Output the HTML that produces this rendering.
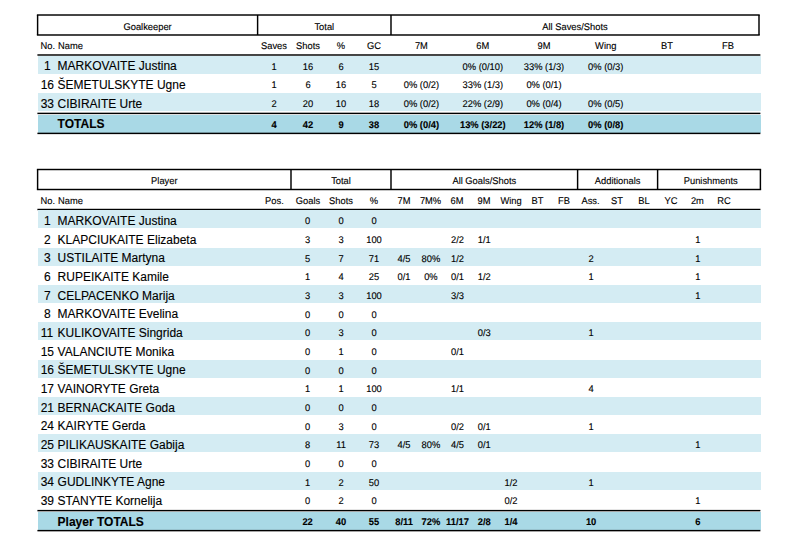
<!DOCTYPE html>
<html><head><meta charset="utf-8"><title>Match statistics</title>
<style>
html,body{margin:0;padding:0;background:#fff;}
body{width:800px;height:540px;overflow:hidden;font-family:"Liberation Sans",sans-serif;}
svg{display:block;position:absolute;left:0;top:0;}
text{font-family:"Liberation Sans",sans-serif;font-size:9.33px;fill:#000;stroke:#000;stroke-width:0.12px;text-rendering:geometricPrecision;}
text.m{text-anchor:middle;} text.s{text-anchor:start;} text.e{text-anchor:end;}
text.b{font-weight:bold;} text.n{font-size:12px;text-rendering:auto;}
</style></head><body>
<svg width="800" height="540" viewBox="0 0 800 540">
<g>
<rect x="36.88" y="14.28" width="722.85" height="1.45" fill="#000"/>
<rect x="36.88" y="34.27" width="722.85" height="1.45" fill="#000"/>
<rect x="36.88" y="15.00" width="1.45" height="20.00" fill="#000"/>
<rect x="758.27" y="15.00" width="1.45" height="20.00" fill="#000"/>
<rect x="256.88" y="15.00" width="1.45" height="20.00" fill="#000"/>
<rect x="390.27" y="15.00" width="1.45" height="20.00" fill="#000"/>
<rect x="37.40" y="54.27" width="723.00" height="1.45" fill="#000"/>
<rect x="38.00" y="56.00" width="723.00" height="18.00" fill="#d4ecf3"/>
<rect x="38.00" y="93.00" width="723.00" height="18.00" fill="#d4ecf3"/>
<rect x="37.40" y="112.67" width="723.00" height="1.45" fill="#000"/>
<rect x="38.00" y="115.00" width="723.00" height="18.00" fill="#a9d9e6"/>
<rect x="37.40" y="132.67" width="723.00" height="1.45" fill="#000"/>
<rect x="36.88" y="168.78" width="724.25" height="1.45" fill="#000"/>
<rect x="36.88" y="188.78" width="724.25" height="1.45" fill="#000"/>
<rect x="36.88" y="169.50" width="1.45" height="20.00" fill="#000"/>
<rect x="759.67" y="169.50" width="1.45" height="20.00" fill="#000"/>
<rect x="290.27" y="169.50" width="1.45" height="20.00" fill="#000"/>
<rect x="390.27" y="169.50" width="1.45" height="20.00" fill="#000"/>
<rect x="576.88" y="169.50" width="1.45" height="20.00" fill="#000"/>
<rect x="656.88" y="169.50" width="1.45" height="20.00" fill="#000"/>
<rect x="37.40" y="208.78" width="723.00" height="1.45" fill="#000"/>
<rect x="38.00" y="210.00" width="723.00" height="18.00" fill="#d4ecf3"/>
<rect x="38.00" y="248.00" width="723.00" height="18.00" fill="#d4ecf3"/>
<rect x="38.00" y="285.00" width="723.00" height="18.00" fill="#d4ecf3"/>
<rect x="38.00" y="322.00" width="723.00" height="18.00" fill="#d4ecf3"/>
<rect x="38.00" y="360.00" width="723.00" height="18.00" fill="#d4ecf3"/>
<rect x="38.00" y="397.00" width="723.00" height="18.00" fill="#d4ecf3"/>
<rect x="38.00" y="434.00" width="723.00" height="18.00" fill="#d4ecf3"/>
<rect x="38.00" y="472.00" width="723.00" height="18.00" fill="#d4ecf3"/>
<rect x="37.40" y="509.90" width="723.00" height="1.45" fill="#000"/>
<rect x="38.00" y="512.00" width="723.00" height="18.00" fill="#a9d9e6"/>
<rect x="37.40" y="529.90" width="723.00" height="1.45" fill="#000"/>
</g>
<g>
<text transform="translate(147.60 29.50) scale(1 1.04)" class="m">Goalkeeper</text>
<text transform="translate(324.30 29.50) scale(1 1.04)" class="m">Total</text>
<text transform="translate(575.00 29.50) scale(1 1.04)" class="m">All Saves/Shots</text>
<text transform="translate(40.60 49.30) scale(1 1.04)" class="s">No.</text>
<text transform="translate(58.00 49.30) scale(1 1.04)" class="s">Name</text>
<text transform="translate(274.00 49.30) scale(1 1.04)" class="m">Saves</text>
<text transform="translate(308.00 49.30) scale(1 1.04)" class="m">Shots</text>
<text transform="translate(341.00 49.30) scale(1 1.04)" class="m">%</text>
<text transform="translate(374.00 49.30) scale(1 1.04)" class="m">GC</text>
<text transform="translate(421.40 49.30) scale(1 1.04)" class="m">7M</text>
<text transform="translate(482.80 49.30) scale(1 1.04)" class="m">6M</text>
<text transform="translate(544.00 49.30) scale(1 1.04)" class="m">9M</text>
<text transform="translate(605.70 49.30) scale(1 1.04)" class="m">Wing</text>
<text transform="translate(667.00 49.30) scale(1 1.04)" class="m">BT</text>
<text transform="translate(728.00 49.30) scale(1 1.04)" class="m">FB</text>
<text x="44.03" y="70.37" class="s n">1</text>
<text x="57.60" y="70.37" class="s n">MARKOVAITE Justina</text>
<text transform="translate(274.00 69.67) scale(1 1.04)" class="m">1</text>
<text transform="translate(308.00 69.67) scale(1 1.04)" class="m">16</text>
<text transform="translate(341.00 69.67) scale(1 1.04)" class="m">6</text>
<text transform="translate(374.00 69.67) scale(1 1.04)" class="m">15</text>
<text transform="translate(482.80 69.67) scale(1 1.04)" class="m">0% (0/10)</text>
<text transform="translate(544.00 69.67) scale(1 1.04)" class="m">33% (1/3)</text>
<text transform="translate(605.70 69.67) scale(1 1.04)" class="m">0% (0/3)</text>
<text x="40.70" y="89.03" class="s n">16</text>
<text x="57.60" y="89.03" class="s n">ŠEMETULSKYTE Ugne</text>
<text transform="translate(274.00 88.33) scale(1 1.04)" class="m">1</text>
<text transform="translate(308.00 88.33) scale(1 1.04)" class="m">6</text>
<text transform="translate(341.00 88.33) scale(1 1.04)" class="m">16</text>
<text transform="translate(374.00 88.33) scale(1 1.04)" class="m">5</text>
<text transform="translate(421.40 88.33) scale(1 1.04)" class="m">0% (0/2)</text>
<text transform="translate(482.80 88.33) scale(1 1.04)" class="m">33% (1/3)</text>
<text transform="translate(544.00 88.33) scale(1 1.04)" class="m">0% (0/1)</text>
<text x="40.70" y="107.70" class="s n">33</text>
<text x="57.60" y="107.70" class="s n">CIBIRAITE Urte</text>
<text transform="translate(274.00 107.00) scale(1 1.04)" class="m">2</text>
<text transform="translate(308.00 107.00) scale(1 1.04)" class="m">20</text>
<text transform="translate(341.00 107.00) scale(1 1.04)" class="m">10</text>
<text transform="translate(374.00 107.00) scale(1 1.04)" class="m">18</text>
<text transform="translate(421.40 107.00) scale(1 1.04)" class="m">0% (0/2)</text>
<text transform="translate(482.80 107.00) scale(1 1.04)" class="m">22% (2/9)</text>
<text transform="translate(544.00 107.00) scale(1 1.04)" class="m">0% (0/4)</text>
<text transform="translate(605.70 107.00) scale(1 1.04)" class="m">0% (0/5)</text>
<text x="57.60" y="128.40" class="s b n">TOTALS</text>
<text transform="translate(274.00 127.70) scale(1 1.04)" class="m b">4</text>
<text transform="translate(308.00 127.70) scale(1 1.04)" class="m b">42</text>
<text transform="translate(341.00 127.70) scale(1 1.04)" class="m b">9</text>
<text transform="translate(374.00 127.70) scale(1 1.04)" class="m b">38</text>
<text transform="translate(421.40 127.70) scale(1 1.04)" class="m b">0% (0/4)</text>
<text transform="translate(482.80 127.70) scale(1 1.04)" class="m b">13% (3/22)</text>
<text transform="translate(544.00 127.70) scale(1 1.04)" class="m b">12% (1/8)</text>
<text transform="translate(605.70 127.70) scale(1 1.04)" class="m b">0% (0/8)</text>
<text transform="translate(164.30 184.00) scale(1 1.04)" class="m">Player</text>
<text transform="translate(341.00 184.00) scale(1 1.04)" class="m">Total</text>
<text transform="translate(484.30 184.00) scale(1 1.04)" class="m">All Goals/Shots</text>
<text transform="translate(617.60 184.00) scale(1 1.04)" class="m">Additionals</text>
<text transform="translate(710.70 184.00) scale(1 1.04)" class="m">Punishments</text>
<text transform="translate(40.60 203.80) scale(1 1.04)" class="s">No.</text>
<text transform="translate(58.00 203.80) scale(1 1.04)" class="s">Name</text>
<text transform="translate(274.40 203.80) scale(1 1.04)" class="m">Pos.</text>
<text transform="translate(308.00 203.80) scale(1 1.04)" class="m">Goals</text>
<text transform="translate(341.00 203.80) scale(1 1.04)" class="m">Shots</text>
<text transform="translate(374.00 203.80) scale(1 1.04)" class="m">%</text>
<text transform="translate(404.00 203.80) scale(1 1.04)" class="m">7M</text>
<text transform="translate(430.50 203.80) scale(1 1.04)" class="m">7M%</text>
<text transform="translate(457.00 203.80) scale(1 1.04)" class="m">6M</text>
<text transform="translate(484.00 203.80) scale(1 1.04)" class="m">9M</text>
<text transform="translate(511.00 203.80) scale(1 1.04)" class="m">Wing</text>
<text transform="translate(537.50 203.80) scale(1 1.04)" class="m">BT</text>
<text transform="translate(564.00 203.80) scale(1 1.04)" class="m">FB</text>
<text transform="translate(590.50 203.80) scale(1 1.04)" class="m">Ass.</text>
<text transform="translate(617.00 203.80) scale(1 1.04)" class="m">ST</text>
<text transform="translate(644.00 203.80) scale(1 1.04)" class="m">BL</text>
<text transform="translate(671.00 203.80) scale(1 1.04)" class="m">YC</text>
<text transform="translate(697.40 203.80) scale(1 1.04)" class="m">2m</text>
<text transform="translate(724.00 203.80) scale(1 1.04)" class="m">RC</text>
<text x="44.03" y="225.03" class="s n">1</text>
<text x="57.60" y="225.03" class="s n">MARKOVAITE Justina</text>
<text transform="translate(307.60 224.33) scale(1 1.04)" class="m">0</text>
<text transform="translate(341.00 224.33) scale(1 1.04)" class="m">0</text>
<text transform="translate(374.00 224.33) scale(1 1.04)" class="m">0</text>
<text x="44.03" y="243.70" class="s n">2</text>
<text x="57.60" y="243.70" class="s n">KLAPCIUKAITE Elizabeta</text>
<text transform="translate(307.60 243.00) scale(1 1.04)" class="m">3</text>
<text transform="translate(341.00 243.00) scale(1 1.04)" class="m">3</text>
<text transform="translate(374.00 243.00) scale(1 1.04)" class="m">100</text>
<text transform="translate(457.50 243.00) scale(1 1.04)" class="m">2/2</text>
<text transform="translate(484.30 243.00) scale(1 1.04)" class="m">1/1</text>
<text transform="translate(697.80 243.00) scale(1 1.04)" class="m">1</text>
<text x="44.03" y="262.36" class="s n">3</text>
<text x="57.60" y="262.36" class="s n">USTILAITE Martyna</text>
<text transform="translate(307.60 261.66) scale(1 1.04)" class="m">5</text>
<text transform="translate(341.00 261.66) scale(1 1.04)" class="m">7</text>
<text transform="translate(374.00 261.66) scale(1 1.04)" class="m">71</text>
<text transform="translate(404.00 261.66) scale(1 1.04)" class="m">4/5</text>
<text transform="translate(430.90 261.66) scale(1 1.04)" class="m">80%</text>
<text transform="translate(457.50 261.66) scale(1 1.04)" class="m">1/2</text>
<text transform="translate(591.10 261.66) scale(1 1.04)" class="m">2</text>
<text transform="translate(697.80 261.66) scale(1 1.04)" class="m">1</text>
<text x="44.03" y="281.03" class="s n">6</text>
<text x="57.60" y="281.03" class="s n">RUPEIKAITE Kamile</text>
<text transform="translate(307.60 280.33) scale(1 1.04)" class="m">1</text>
<text transform="translate(341.00 280.33) scale(1 1.04)" class="m">4</text>
<text transform="translate(374.00 280.33) scale(1 1.04)" class="m">25</text>
<text transform="translate(404.00 280.33) scale(1 1.04)" class="m">0/1</text>
<text transform="translate(430.90 280.33) scale(1 1.04)" class="m">0%</text>
<text transform="translate(457.50 280.33) scale(1 1.04)" class="m">0/1</text>
<text transform="translate(484.30 280.33) scale(1 1.04)" class="m">1/2</text>
<text transform="translate(591.10 280.33) scale(1 1.04)" class="m">1</text>
<text transform="translate(697.80 280.33) scale(1 1.04)" class="m">1</text>
<text x="44.03" y="299.70" class="s n">7</text>
<text x="57.60" y="299.70" class="s n">CELPACENKO Marija</text>
<text transform="translate(307.60 299.00) scale(1 1.04)" class="m">3</text>
<text transform="translate(341.00 299.00) scale(1 1.04)" class="m">3</text>
<text transform="translate(374.00 299.00) scale(1 1.04)" class="m">100</text>
<text transform="translate(457.50 299.00) scale(1 1.04)" class="m">3/3</text>
<text transform="translate(697.80 299.00) scale(1 1.04)" class="m">1</text>
<text x="44.03" y="318.36" class="s n">8</text>
<text x="57.60" y="318.36" class="s n">MARKOVAITE Evelina</text>
<text transform="translate(307.60 317.66) scale(1 1.04)" class="m">0</text>
<text transform="translate(341.00 317.66) scale(1 1.04)" class="m">0</text>
<text transform="translate(374.00 317.66) scale(1 1.04)" class="m">0</text>
<text x="40.70" y="337.03" class="s n">11</text>
<text x="57.60" y="337.03" class="s n">KULIKOVAITE Singrida</text>
<text transform="translate(307.60 336.33) scale(1 1.04)" class="m">0</text>
<text transform="translate(341.00 336.33) scale(1 1.04)" class="m">3</text>
<text transform="translate(374.00 336.33) scale(1 1.04)" class="m">0</text>
<text transform="translate(484.30 336.33) scale(1 1.04)" class="m">0/3</text>
<text transform="translate(591.10 336.33) scale(1 1.04)" class="m">1</text>
<text x="40.70" y="355.70" class="s n">15</text>
<text x="57.60" y="355.70" class="s n">VALANCIUTE Monika</text>
<text transform="translate(307.60 355.00) scale(1 1.04)" class="m">0</text>
<text transform="translate(341.00 355.00) scale(1 1.04)" class="m">1</text>
<text transform="translate(374.00 355.00) scale(1 1.04)" class="m">0</text>
<text transform="translate(457.50 355.00) scale(1 1.04)" class="m">0/1</text>
<text x="40.70" y="374.36" class="s n">16</text>
<text x="57.60" y="374.36" class="s n">ŠEMETULSKYTE Ugne</text>
<text transform="translate(307.60 373.66) scale(1 1.04)" class="m">0</text>
<text transform="translate(341.00 373.66) scale(1 1.04)" class="m">0</text>
<text transform="translate(374.00 373.66) scale(1 1.04)" class="m">0</text>
<text x="40.70" y="393.03" class="s n">17</text>
<text x="57.60" y="393.03" class="s n">VAINORYTE Greta</text>
<text transform="translate(307.60 392.33) scale(1 1.04)" class="m">1</text>
<text transform="translate(341.00 392.33) scale(1 1.04)" class="m">1</text>
<text transform="translate(374.00 392.33) scale(1 1.04)" class="m">100</text>
<text transform="translate(457.50 392.33) scale(1 1.04)" class="m">1/1</text>
<text transform="translate(591.10 392.33) scale(1 1.04)" class="m">4</text>
<text x="40.70" y="411.70" class="s n">21</text>
<text x="57.60" y="411.70" class="s n">BERNACKAITE Goda</text>
<text transform="translate(307.60 411.00) scale(1 1.04)" class="m">0</text>
<text transform="translate(341.00 411.00) scale(1 1.04)" class="m">0</text>
<text transform="translate(374.00 411.00) scale(1 1.04)" class="m">0</text>
<text x="40.70" y="430.36" class="s n">24</text>
<text x="57.60" y="430.36" class="s n">KAIRYTE Gerda</text>
<text transform="translate(307.60 429.66) scale(1 1.04)" class="m">0</text>
<text transform="translate(341.00 429.66) scale(1 1.04)" class="m">3</text>
<text transform="translate(374.00 429.66) scale(1 1.04)" class="m">0</text>
<text transform="translate(457.50 429.66) scale(1 1.04)" class="m">0/2</text>
<text transform="translate(484.30 429.66) scale(1 1.04)" class="m">0/1</text>
<text transform="translate(591.10 429.66) scale(1 1.04)" class="m">1</text>
<text x="40.70" y="449.03" class="s n">25</text>
<text x="57.60" y="449.03" class="s n">PILIKAUSKAITE Gabija</text>
<text transform="translate(307.60 448.33) scale(1 1.04)" class="m">8</text>
<text transform="translate(341.00 448.33) scale(1 1.04)" class="m">11</text>
<text transform="translate(374.00 448.33) scale(1 1.04)" class="m">73</text>
<text transform="translate(404.00 448.33) scale(1 1.04)" class="m">4/5</text>
<text transform="translate(430.90 448.33) scale(1 1.04)" class="m">80%</text>
<text transform="translate(457.50 448.33) scale(1 1.04)" class="m">4/5</text>
<text transform="translate(484.30 448.33) scale(1 1.04)" class="m">0/1</text>
<text transform="translate(697.80 448.33) scale(1 1.04)" class="m">1</text>
<text x="40.70" y="467.70" class="s n">33</text>
<text x="57.60" y="467.70" class="s n">CIBIRAITE Urte</text>
<text transform="translate(307.60 467.00) scale(1 1.04)" class="m">0</text>
<text transform="translate(341.00 467.00) scale(1 1.04)" class="m">0</text>
<text transform="translate(374.00 467.00) scale(1 1.04)" class="m">0</text>
<text x="40.70" y="486.36" class="s n">34</text>
<text x="57.60" y="486.36" class="s n">GUDLINKYTE Agne</text>
<text transform="translate(307.60 485.66) scale(1 1.04)" class="m">1</text>
<text transform="translate(341.00 485.66) scale(1 1.04)" class="m">2</text>
<text transform="translate(374.00 485.66) scale(1 1.04)" class="m">50</text>
<text transform="translate(511.00 485.66) scale(1 1.04)" class="m">1/2</text>
<text transform="translate(591.10 485.66) scale(1 1.04)" class="m">1</text>
<text x="40.70" y="505.03" class="s n">39</text>
<text x="57.60" y="505.03" class="s n">STANYTE Kornelija</text>
<text transform="translate(307.60 504.33) scale(1 1.04)" class="m">0</text>
<text transform="translate(341.00 504.33) scale(1 1.04)" class="m">2</text>
<text transform="translate(374.00 504.33) scale(1 1.04)" class="m">0</text>
<text transform="translate(511.00 504.33) scale(1 1.04)" class="m">0/2</text>
<text transform="translate(697.80 504.33) scale(1 1.04)" class="m">1</text>
<text x="57.60" y="525.63" class="s b n">Player TOTALS</text>
<text transform="translate(307.60 524.93) scale(1 1.04)" class="m b">22</text>
<text transform="translate(341.00 524.93) scale(1 1.04)" class="m b">40</text>
<text transform="translate(374.00 524.93) scale(1 1.04)" class="m b">55</text>
<text transform="translate(404.00 524.93) scale(1 1.04)" class="m b">8/11</text>
<text transform="translate(430.90 524.93) scale(1 1.04)" class="m b">72%</text>
<text transform="translate(457.50 524.93) scale(1 1.04)" class="m b">11/17</text>
<text transform="translate(484.30 524.93) scale(1 1.04)" class="m b">2/8</text>
<text transform="translate(511.00 524.93) scale(1 1.04)" class="m b">1/4</text>
<text transform="translate(591.10 524.93) scale(1 1.04)" class="m b">10</text>
<text transform="translate(697.80 524.93) scale(1 1.04)" class="m b">6</text>
</g>
</svg>
</body></html>
